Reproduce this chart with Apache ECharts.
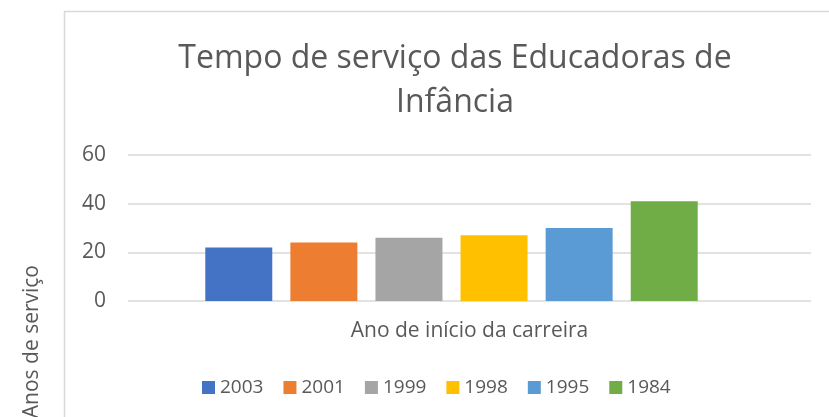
<!DOCTYPE html>
<html>
<head>
<meta charset="utf-8">
<script src="https://cdn.jsdelivr.net/npm/echarts@6/dist/echarts.min.js"></script>
<style>
  html, body { margin: 0; padding: 0; background: #fff; }
  #chart { width: 829px; height: 417px; }
</style>
</head>
<body>
<div id="chart"></div>
<script>
// dados do gráfico
const anos = ['2003', '2001', '1999', '1998', '1995', '1984'];
const tempoServico = [22, 24, 26, 27, 30, 41];
const cores = ['#4472C4', '#ED7D31', '#A5A5A5', '#FFC000', '#5B9BD5', '#70AD47'];
const categorias = [''];
const yTicks = { min: 0, max: 60, interval: 20 };

const fonte = 'Open Sans';
const cinza = '#595959';

const chart = echarts.init(document.getElementById('chart'));

// uma série por ano (cada barra tem a sua cor e entrada na legenda)
let series = anos.map((ano, i) => ({
  name: ano,
  type: 'bar',
  xAxisIndex: 1,
  yAxisIndex: 1,
  barWidth: 67,
  barGap: '27%',
  itemStyle: { color: cores[i] },
  data: [tempoServico[i]]
}));

let option = {
  animation: false,
  textStyle: { fontFamily: fonte },
  title: {
    text: 'Tempo de serviço das Educadoras de\nInfância',
    left: 450,
    top: 32,
    textAlign: 'center',
    textStyle: { fontFamily: fonte, fontSize: 32, fontWeight: 'normal', color: cinza, lineHeight: 44 }
  },
  legend: {
    data: anos,
    top: 373,
    left: 197,
    icon: 'rect',
    itemWidth: 13,
    itemHeight: 13,
    itemGap: 20,
    textStyle: { fontFamily: fonte, fontSize: 19, color: cinza, padding: [0, 0, 0, 0] }
  },
  grid: [
    { left: 128, right: 18, top: 155, height: 146 },
    { left: 128, right: 54, top: 155, height: 146 }
  ],
  xAxis: [
    {
      type: 'category', gridIndex: 0, data: categorias,
      axisLine: { show: false }, axisTick: { show: false }, axisLabel: { show: false },
      name: 'Ano de início da carreira',
      nameLocation: 'middle',
      nameGap: 20,
      nameTextStyle: { fontFamily: fonte, fontSize: 21, color: cinza }
    },
    {
      type: 'category', gridIndex: 1, data: categorias,
      axisLine: { show: false }, axisTick: { show: false }, axisLabel: { show: false }
    }
  ],
  yAxis: [
    {
      type: 'value', gridIndex: 0,
      min: yTicks.min, max: yTicks.max, interval: yTicks.interval,
      axisLabel: { fontFamily: fonte, fontSize: 21, color: cinza, margin: 22 },
      splitLine: { lineStyle: { color: '#D9D9D9', width: 1.5 } },
      axisLine: { show: false }, axisTick: { show: false }
    },
    {
      type: 'value', gridIndex: 1,
      min: yTicks.min, max: yTicks.max, interval: yTicks.interval,
      show: false, splitLine: { show: false }
    }
  ],
  graphic: [
    // moldura da área do gráfico
    { type: 'line', shape: { x1: 64.5, y1: 11, x2: 64.5, y2: 417 }, style: { stroke: '#D9D9D9', lineWidth: 1.5 } },
    { type: 'line', shape: { x1: 64, y1: 11.5, x2: 829, y2: 11.5 }, style: { stroke: '#D9D9D9', lineWidth: 1.5 } },
    // título do eixo vertical
    {
      type: 'text', x: 32, y: 265, rotation: Math.PI / 2,
      style: { text: 'Anos de serviço', fill: cinza, font: '21px "Open Sans"', textAlign: 'right', textVerticalAlign: 'middle' }
    }
  ],
  series: series
};

chart.setOption(option);
</script>
</body>
</html>
